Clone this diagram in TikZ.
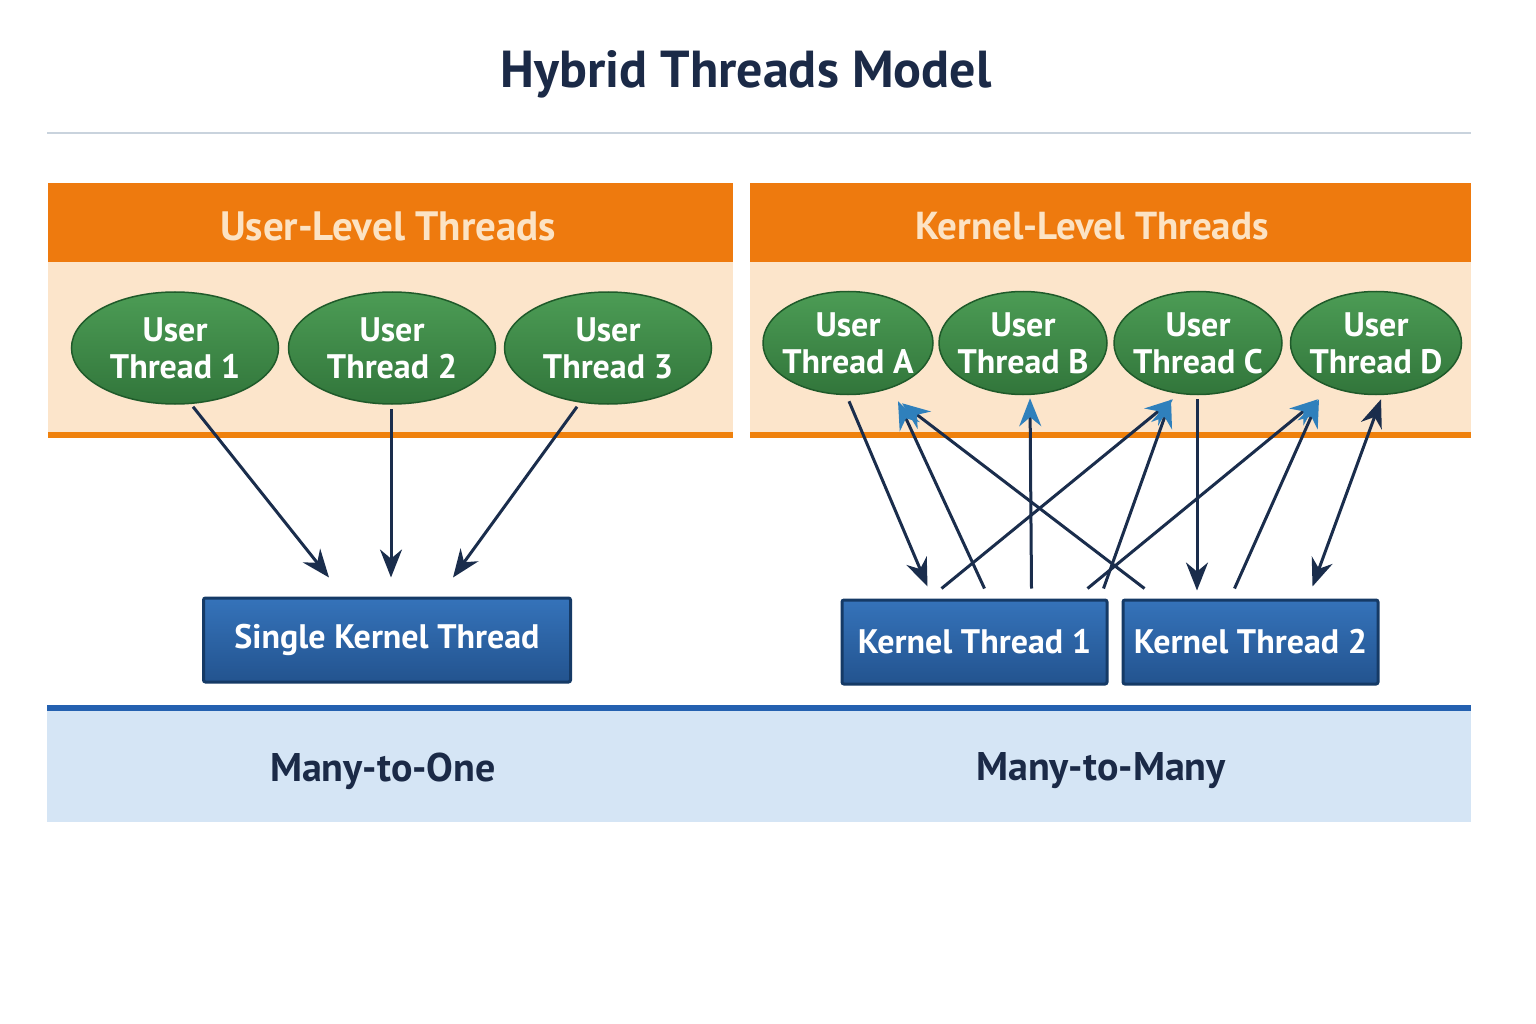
\documentclass[tikz,border=0pt]{standalone}
\usepackage{fontspec}
\setmainfont{PT Sans}
\usetikzlibrary{arrows.meta, positioning, shapes.geometric, calc}
\definecolor{titlenavy}{HTML}{1B2A47}
\definecolor{rulegray}{HTML}{C9D3DD}
\definecolor{headorange}{HTML}{EE7A0E}
\definecolor{headtext}{HTML}{FCE3C4}
\definecolor{bodypeach}{HTML}{FCE5CB}
\definecolor{threadgreen}{HTML}{3A8A45}
\definecolor{threadlight}{HTML}{4C9C55}
\definecolor{threaddark}{HTML}{1F5A2A}
\definecolor{kernelblue}{HTML}{2962A8}
\definecolor{kernellight}{HTML}{3573BA}
\definecolor{kerneldark}{HTML}{153A66}
\definecolor{bandblue}{HTML}{D5E5F5}
\definecolor{bandline}{HTML}{2461B0}
\definecolor{linknavy}{HTML}{1A2D4C}
\definecolor{tipblue}{HTML}{2F80BC}

\begin{document}
\begin{tikzpicture}[
    x=1pt, y=-1pt,
    uthread/.style={ellipse, draw=threaddark, line width=1.5pt, top color=threadlight, bottom color=threadgreen!85!black,
      minimum width=#1, text=white, align=center, font=\fontsize{34}{37}\selectfont\bfseries, inner sep=-14pt},
    kthread/.style={draw=kerneldark, line width=3pt, top color=kernellight, bottom color=kernelblue!85!black,
      rounded corners=2pt, minimum height=84pt, text=white, font=\fontsize{34}{36}\selectfont\bfseries},
    header/.style={text=headtext, font=\fontsize{41}{44}\selectfont\bfseries},
    modelname/.style={text=titlenavy, font=\fontsize{40}{44}\selectfont\bfseries},
    link/.style={linknavy, line width=3pt, -{Stealth[length=28pt,width=22pt]}},
    uplink/.style={linknavy, line width=3pt, -{Stealth[length=28pt,width=22pt,color=tipblue]}},
    bothlink/.style={linknavy, line width=3pt, {Stealth[length=28pt,width=22pt]}-{Stealth[length=28pt,width=22pt]}},
]
    \useasboundingbox (0,0) rectangle (1536,1024);
    \fill[white] (0,0) rectangle (1536,1024);

    % Title
    \node[text=titlenavy, font=\fontsize{52}{58}\selectfont\bfseries] (title) at (746,74) {Hybrid Threads Model};
    \draw[rulegray, line width=2.5pt] (47,133) -- (1471,133);

    % Panels
    \fill[bodypeach] (48,262) rectangle (733,432);
    \fill[headorange] (48,183) rectangle (733,262);
    \fill[headorange!95!yellow] (48,432) rectangle (733,438);
    \fill[bodypeach] (750,262) rectangle (1471,432);
    \fill[headorange] (750,183) rectangle (1471,262);
    \fill[headorange!95!yellow] (750,432) rectangle (1471,438);
    \node[header] (userhead) at (388,226) {User-Level Threads};
    \node[header, font=\fontsize{39}{44}\selectfont\bfseries] (kernhead) at (1092,226) {Kernel-Level Threads};

    % User threads (many-to-one)
    \node[uthread=207pt, minimum height=112pt] (u1) at (175,348) {User\\Thread 1};
    \node[uthread=207pt, minimum height=112pt] (u2) at (392,348) {User\\Thread 2};
    \node[uthread=207pt, minimum height=112pt] (u3) at (608,348) {User\\Thread 3};
    \node[kthread, minimum width=367pt] (single) at (387,640) {Single Kernel Thread};

    \draw[link] ([xshift=18pt,yshift=-2pt]u1.south) -- ([xshift=-58pt,yshift=19pt]single.north);
    \draw[link] ([xshift=-1pt,yshift=-4pt]u2.south) -- ([xshift=4pt,yshift=19pt]single.north);
    \draw[link] ([xshift=-31pt,yshift=-2pt]u3.south) -- ([xshift=66pt,yshift=19pt]single.north);

    % User threads (many-to-many)
    \node[uthread=170pt, minimum height=103pt] (ua) at (848,343) {User\\Thread A};
    \node[uthread=168pt, minimum height=103pt] (ub) at (1023,343) {User\\Thread B};
    \node[uthread=168pt, minimum height=103pt] (uc) at (1198,343) {User\\Thread C};
    \node[uthread=171pt, minimum height=103pt] (ud) at (1376,343) {User\\Thread D};
    \node[kthread, minimum width=265pt] (kt1) at (974.5,642) {Kernel Thread 1};
    \node[kthread, minimum width=255pt] (kt2) at (1250.5,642) {Kernel Thread 2};

    \draw[link] ([xshift=1pt,yshift=-6pt]ua.south) -- ([xshift=-47pt,yshift=12pt]kt1.north);
    \draw[uplink] ([xshift=10pt,yshift=10pt]kt1.north) -- ([xshift=50pt,yshift=-6pt]ua.south);
    \draw[uplink] ([xshift=-106pt,yshift=10pt]kt2.north) -- ([xshift=54pt,yshift=-8pt]ua.south);
    \draw[uplink] ([xshift=57pt,yshift=10pt]kt1.north) -- ([xshift=7pt,yshift=-3pt]ub.south);
    \draw[uplink] ([xshift=-33pt,yshift=10pt]kt1.north) -- ([xshift=-25pt,yshift=-4pt]uc.south);
    \draw[uplink] ([xshift=129pt,yshift=10pt]kt1.north) -- ([xshift=-27pt,yshift=-4pt]uc.south);
    \draw[uplink] ([xshift=113pt,yshift=10pt]kt1.north) -- ([xshift=-58pt,yshift=-4pt]ud.south);
    \draw[uplink] ([xshift=-16pt,yshift=10pt]kt2.north) -- ([xshift=-57pt,yshift=-4pt]ud.south);
    \draw[link] ([xshift=-1pt,yshift=-4pt]uc.south) -- ([xshift=-53.5pt,yshift=8pt]kt2.north);
    \draw[bothlink] ([xshift=5pt,yshift=-4pt]ud.south) -- ([xshift=62pt,yshift=12pt]kt2.north);

    % Bottom band
    \fill[bandblue] (47,708) rectangle (1471,822);
    \draw[bandline, line width=6pt] (47,708) -- (1471,708);
    \node[modelname] (mto) at (383,771) {Many-to-One};
    \node[modelname] (mtm) at (1101,771) {Many-to-Many};
\end{tikzpicture}
\end{document}
